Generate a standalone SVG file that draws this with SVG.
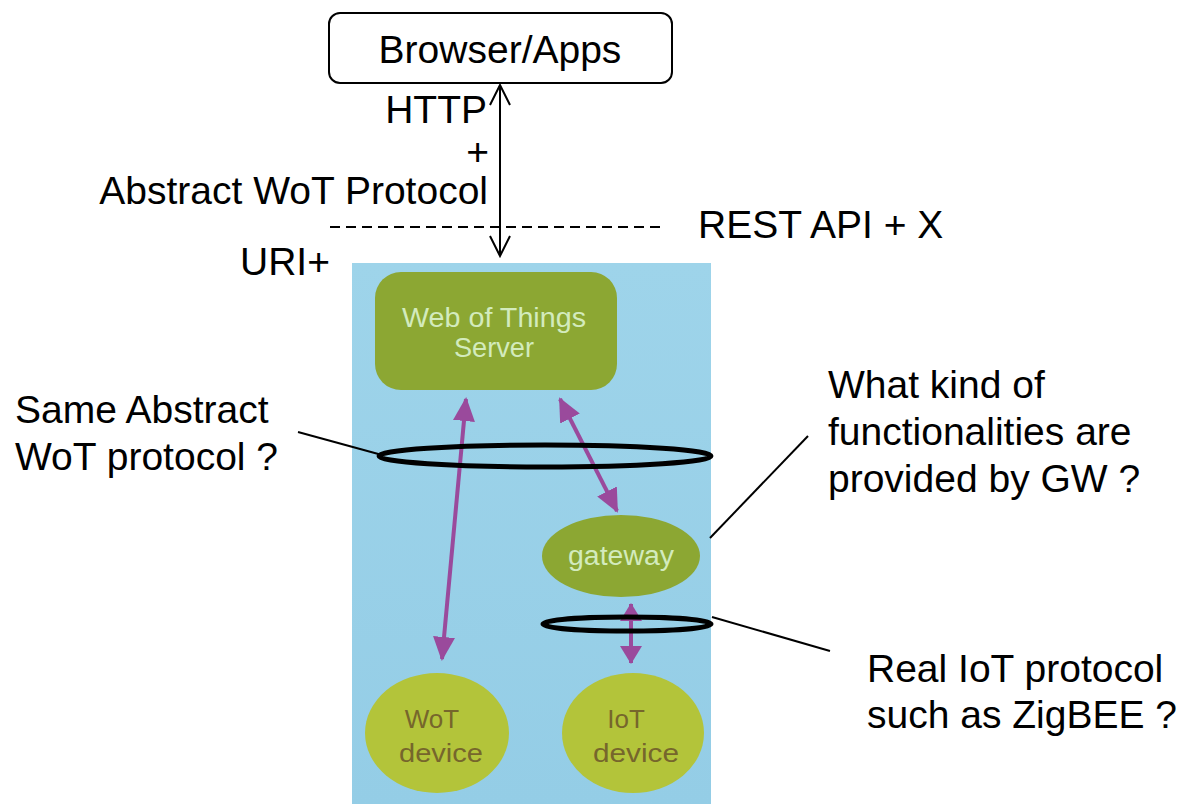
<svg xmlns="http://www.w3.org/2000/svg" width="1187" height="810" viewBox="0 0 1187 810">
  <defs>
    <style>
      .lbl { font-family: "Liberation Sans", Arial, sans-serif; font-size: 39px; fill: #000; }
      .ph { font-family: "Liberation Sans", Arial, sans-serif; font-size: 26px; }
      .srv { fill: #d3ebbd; font-size: 27px; }
      .dev { fill: #76662c; }
      .blk { stroke: #000; stroke-width: 2; fill: none; }
      .ring { stroke: #000; stroke-width: 5; fill: none; }
      .pur { stroke: #9a4a9c; stroke-width: 4; fill: none; }
    </style>
    <marker id="open" viewBox="0 0 24 24" refX="22" refY="12" markerWidth="24" markerHeight="24" markerUnits="userSpaceOnUse" orient="auto-start-reverse">
      <path d="M2,2 L22,12 L2,22" fill="none" stroke="#000" stroke-width="2"/>
    </marker>
    <marker id="tri" viewBox="0 0 24 22" refX="22" refY="11" markerWidth="24" markerHeight="22" markerUnits="userSpaceOnUse" orient="auto-start-reverse">
      <path d="M0,0 L24,11 L0,22 Z" fill="#9a4a9c"/>
    </marker>
    <marker id="tris" viewBox="0 0 18 22" refX="17" refY="11" markerWidth="18" markerHeight="22" markerUnits="userSpaceOnUse" orient="auto-start-reverse">
      <path d="M0,0 L18,11 L0,22 Z" fill="#9a4a9c"/>
    </marker>
    <linearGradient id="bg" x1="0" y1="0" x2="0" y2="1">
      <stop offset="0" stop-color="#9ed4ea"/>
      <stop offset="1" stop-color="#94cde6"/>
    </linearGradient>
  </defs>

  <rect width="1187" height="810" fill="#ffffff"/>

  <!-- photo background -->
  <rect id="photo" x="352" y="263" width="359" height="541" fill="url(#bg)"/>

  <g id="browser">
    <rect x="329" y="13" width="343" height="70" rx="11" fill="#fff" stroke="#000" stroke-width="2"/>
    <text class="lbl" x="500" y="63" text-anchor="middle">Browser/Apps</text>
  </g>

  <g id="server">
    <rect x="375" y="272" width="242" height="118" rx="26" fill="#8ca733"/>
    <text class="ph srv" x="494" y="327" text-anchor="middle" textLength="184" lengthAdjust="spacingAndGlyphs">Web of Things</text>
    <text class="ph srv" x="494" y="357" text-anchor="middle" textLength="80" lengthAdjust="spacingAndGlyphs">Server</text>
  </g>

  <g id="gateway">
    <ellipse cx="621" cy="556" rx="79" ry="41" fill="#8ca733"/>
    <text class="ph srv" x="621" y="565" text-anchor="middle" textLength="106" lengthAdjust="spacingAndGlyphs">gateway</text>
  </g>

  <g id="wot-device">
    <ellipse cx="437" cy="733" rx="72" ry="60" fill="#b3c43a"/>
    <text class="ph dev" x="432" y="728" text-anchor="middle">WoT</text>
    <text class="ph dev" x="441" y="762" text-anchor="middle" textLength="84" lengthAdjust="spacingAndGlyphs">device</text>
  </g>

  <g id="iot-device">
    <ellipse cx="633" cy="733" rx="71" ry="60" fill="#b3c43a"/>
    <text class="ph dev" x="626" y="728" text-anchor="middle">IoT</text>
    <text class="ph dev" x="636" y="762" text-anchor="middle" textLength="86" lengthAdjust="spacingAndGlyphs">device</text>
  </g>

  <g id="connectors">
    <line class="blk" x1="500" y1="85" x2="500" y2="256" marker-start="url(#open)" marker-end="url(#open)"/>
    <line x1="330" y1="227" x2="665" y2="227" stroke="#000" stroke-width="2" stroke-dasharray="10,6"/>
    <line class="pur" x1="466" y1="399" x2="442" y2="659" marker-start="url(#tri)" marker-end="url(#tri)"/>
    <line class="pur" x1="560" y1="399" x2="617" y2="511" marker-start="url(#tri)" marker-end="url(#tri)"/>
    <line class="pur" x1="631" y1="604" x2="631" y2="663" marker-start="url(#tris)" marker-end="url(#tris)" stroke-width="6"/>
    <!-- callout lines -->
    <line class="blk" x1="298" y1="432" x2="382" y2="455"/>
    <line class="blk" x1="808" y1="436" x2="710" y2="538"/>
    <line class="blk" x1="712" y1="617" x2="830" y2="651"/>
  </g>

  <g id="rings">
    <ellipse class="ring" cx="545" cy="456" rx="166" ry="11"/>
    <ellipse class="ring" cx="627" cy="624" rx="84" ry="7"/>
  </g>

  <g id="labels">
    <text class="lbl" x="487" y="123" text-anchor="end">HTTP</text>
    <text class="lbl" x="489" y="165" text-anchor="end">+</text>
    <text class="lbl" x="488" y="204" text-anchor="end">Abstract WoT Protocol</text>
    <text class="lbl" x="240" y="275">URI+</text>
    <text class="lbl" x="698" y="238">REST API + X</text>
    <text class="lbl" x="15" y="423">Same Abstract</text>
    <text class="lbl" x="15" y="470">WoT protocol ?</text>
    <text class="lbl" x="828" y="398">What kind of</text>
    <text class="lbl" x="828" y="445">functionalities are</text>
    <text class="lbl" x="828" y="492">provided by GW ?</text>
    <text class="lbl" x="867" y="682">Real IoT protocol</text>
    <text class="lbl" x="867" y="728">such as ZigBEE ?</text>
  </g>
</svg>
